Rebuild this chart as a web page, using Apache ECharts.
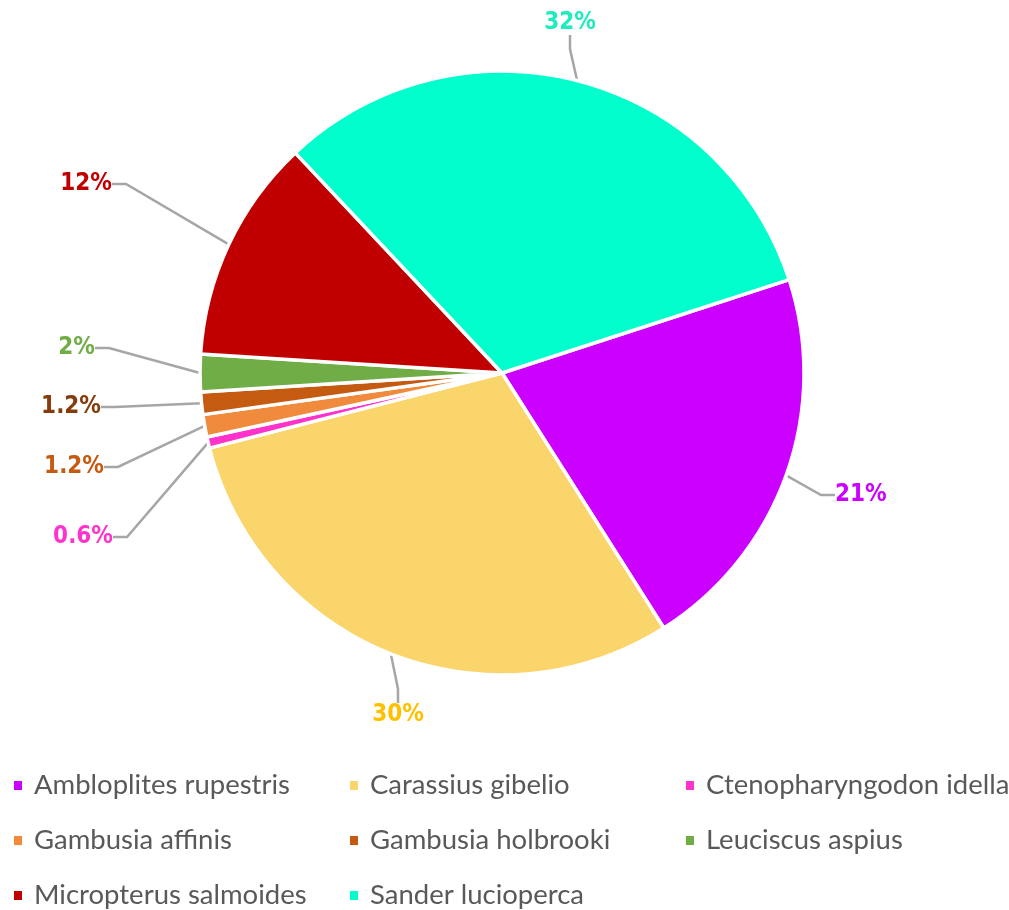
<!DOCTYPE html>
<html>
<head>
<meta charset="utf-8">
<script src="https://cdn.jsdelivr.net/npm/echarts@6/dist/echarts.min.js"></script>
<style>
  html, body { margin: 0; padding: 0; background: #fff; }
  #chart { width: 1009px; height: 910px; }
</style>
</head>
<body>
<div id="chart"></div>
<script>
// Species share of the catch, in percent
const species = [
  'Ambloplites rupestris',
  'Carassius gibelio',
  'Ctenopharyngodon idella',
  'Gambusia affinis',
  'Gambusia holbrooki',
  'Leuciscus aspius',
  'Micropterus salmoides',
  'Sander lucioperca'
];
const shares = [21, 30, 0.6, 1.2, 1.2, 2, 12, 32];

// Slice fills and label text colours
const sliceColors = ['#CC00FF', '#F9D56C', '#FF33CC', '#F08A3C', '#C55A11', '#70AD47', '#C00000', '#00FFCC'];
const labelColors = ['#CC00FF', '#FFC000', '#FF33CC', '#C55A11', '#843C0C', '#70AD47', '#C00000', '#1EEBBE'];

// Where each percentage label sits: [x, y, text alignment]
const labelSpots = [
  [835, 495, 'left'],
  [398, 715, 'center'],
  [113, 537, 'right'],
  [104, 467, 'right'],
  [101, 407, 'right'],
  [95, 348, 'right'],
  [112, 184, 'right'],
  [570, 23, 'center']
];

const chart = echarts.init(document.getElementById('chart'), null, { renderer: 'canvas' });

const option = {
  animation: false,
  backgroundColor: '#ffffff',
  legend: {
    data: species,
    left: 12,
    top: 770,
    width: 1000,
    padding: 0,
    itemGap: 24,
    itemWidth: 10,
    itemHeight: 11,
    icon: 'rect',
    textStyle: {
      fontFamily: 'Lato, "Liberation Sans", sans-serif',
      fontSize: 27.5,
      color: '#595959',
      width: 290,
      lineHeight: 31,
      padding: [0, 0, 0, 6],
      overflow: 'none'
    }
  },
  series: [{
    type: 'pie',
    center: [502, 373],
    radius: 302,
    startAngle: 18,
    clockwise: true,
    avoidLabelOverlap: false,
    itemStyle: { borderColor: '#ffffff', borderWidth: 3.5 },
    label: {
      show: true,
      formatter: p => p.value + '%',
      fontFamily: '"DejaVu Sans Condensed", "DejaVu Sans", sans-serif',
      fontWeight: 'bold',
      fontSize: 24
    },
    labelLine: {
      show: true,
      length: 30,
      length2: 14,
      lineStyle: { color: '#A6A6A6', width: 2.5 }
    },
    labelLayout: function (params) {
      const s = labelSpots[params.dataIndex];
      return { x: s[0], y: s[1], align: s[2], verticalAlign: 'middle' };
    },
    data: species.map((name, i) => ({
      name: name,
      value: shares[i],
      itemStyle: { color: sliceColors[i] },
      label: { color: labelColors[i] },
      labelLine: { lineStyle: { color: '#A6A6A6', width: 2.5 } }
    }))
  }]
};

chart.setOption(option);
</script>
</body>
</html>
